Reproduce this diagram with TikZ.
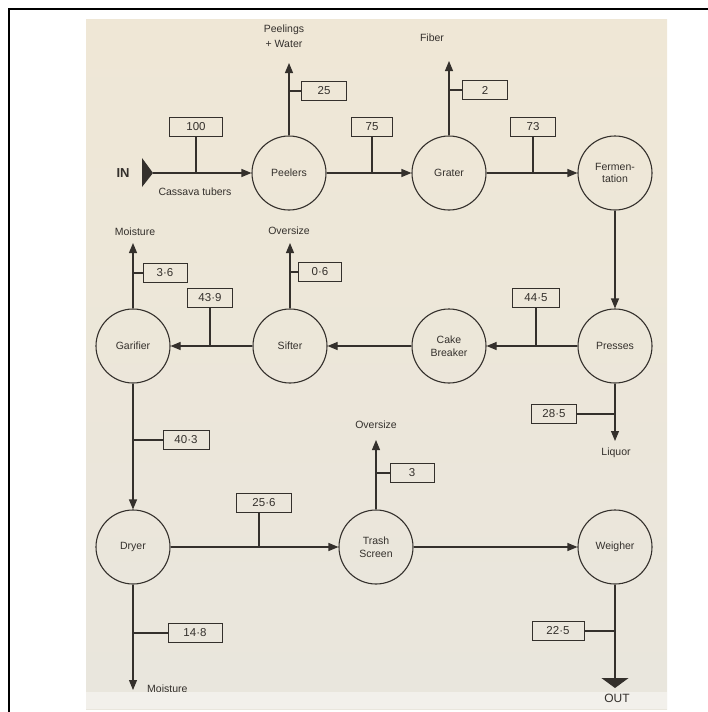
\documentclass[tikz,border=0pt]{standalone}
\usepackage{fontspec}
\setmainfont{Liberation Sans}
\usetikzlibrary{arrows.meta}
\definecolor{page}{RGB}{239,231,214}
\definecolor{pagelow}{RGB}{233,230,221}
\definecolor{ink}{RGB}{52,48,44}
\begin{document}
\begin{tikzpicture}[x=1pt,y=-1pt,
		unit/.style={circle,draw=ink,line width=1.1pt,minimum size=74pt,inner sep=0pt,align=center,
			font=\fontsize{10.5}{12.5}\selectfont,text=ink},
		flowbox/.style={draw=ink,line width=1pt,minimum width=45pt,minimum height=19pt,inner sep=0pt,
			font=\fontsize{11.5}{12}\selectfont,text=ink},
		tag/.style={inner sep=0pt,align=center,font=\fontsize{10.5}{15}\selectfont,text=ink},
		flow/.style={draw=ink,line width=1.1pt,-{Triangle[length=10pt,width=8pt]}},
		stem/.style={draw=ink,line width=1.1pt}]
		\useasboundingbox (0,0) rectangle (708,712);
		\draw[line width=2pt] (708,9)--(9,9)--(9,712);
		\shade[top color=page,bottom color=pagelow] (86,19) rectangle (667,709);

		\node[unit] (peel) at (289,173) {Peelers};
		\node[unit] (grate) at (449,173) {Grater};
		\node[unit] (ferm) at (615,173) {Fermen-\\tation};
		\node[unit] (press) at (615,346) {Presses};
		\node[unit] (cake) at (449,346) {Cake\\Breaker};
		\node[unit] (sift) at (290,346) {Sifter};
		\node[unit] (gari) at (133,346) {Garifier};
		\node[unit] (dry) at (133,547) {Dryer};
		\node[unit] (trash) at (376,547) {Trash\\Screen};
		\node[unit] (weigh) at (615,547) {Weigher};

		\coordinate (in) at (153,173);
		\fill[ink] (142,158)--(in)--(142,187)--cycle;
		\node[tag,font=\fontsize{13}{13}\selectfont\bfseries] (intext) at (123,173) {IN};
		\node[tag] (tubers) at (195,192) {Cassava tubers};
		\draw[flow] (in)--(peel);
		\draw[flow] (peel)--(grate);
		\draw[flow] (grate)--(ferm);
		\draw[flow] (ferm)--(press);
		\draw[flow] (press)--(cake);
		\draw[flow] (cake)--(sift);
		\draw[flow] (sift)--(gari);
		\draw[flow] (gari)--(dry);
		\draw[flow] (dry)--(trash);
		\draw[flow] (trash)--(weigh);

		\coordinate (peelout) at (289,63);
		\coordinate (grateout) at (449,61);
		\coordinate (gariout) at (133,243);
		\coordinate (siftout) at (290,243);
		\coordinate (trashout) at (376,440);
		\coordinate (liquor) at (615,441);
		\coordinate (dryout) at (133,690);
		\coordinate (out) at (615,688);
		\draw[flow] (peel)--(peelout);
		\draw[flow] (grate)--(grateout);
		\draw[flow] (gari)--(gariout);
		\draw[flow] (sift)--(siftout);
		\draw[flow] (trash)--(trashout);
		\draw[flow] (press)--(liquor);
		\draw[flow] (dry)--(dryout);
		\draw[draw=ink,line width=1.1pt,-{Triangle[length=10pt,width=27pt]}] (weigh)--(out);

		\node[tag] (peeltext) at (284,36) {Peelings\\+ Water};
		\node[tag] (fibertext) at (432,38) {Fiber};
		\node[tag] (garitext) at (135,232) {Moisture};
		\node[tag] (sifttext) at (289,231) {Oversize};
		\node[tag] (trashtext) at (376,425) {Oversize};
		\node[tag] (liquortext) at (616,453) {Liquor};
		\node[tag,anchor=west] (drytext) at (147,689) {Moisture};
		\fill[pagelow!60!white] (86,692) rectangle (667,709);
		\node[tag,font=\fontsize{12}{12}\selectfont] (outtext) at (617,698) {OUT};

		\node[flowbox,minimum width=53pt] (b100) at (196,127) {100};
		\node[flowbox] (b25) at (324,91) {25};
		\node[flowbox,minimum width=41pt] (b75) at (372,127) {75};
		\node[flowbox] (b2) at (485,90) {2};
		\node[flowbox] (b73) at (533,127) {73};
		\node[flowbox,minimum width=47pt] (b445) at (536,298) {44·5};
		\node[flowbox] (b285) at (554,414) {28·5};
		\node[flowbox] (b439) at (210,298) {43·9};
		\node[flowbox,minimum width=44pt] (b36) at (165,273) {3·6};
		\node[flowbox,minimum width=43pt] (b06) at (320,272) {0·6};
		\node[flowbox,minimum width=46pt] (b403) at (186,440) {40·3};
		\node[flowbox,minimum width=55pt] (b256) at (264,503) {25·6};
		\node[flowbox,minimum width=44pt] (b3) at (412,473) {3};
		\node[flowbox,minimum width=52pt] (b225) at (558,631) {22·5};
		\node[flowbox,minimum width=54pt] (b148) at (195,633) {14·8};

		\coordinate (j100) at (196,173);
		\coordinate (j25) at (289,91);
		\coordinate (j75) at (372,173);
		\coordinate (j2) at (449,90);
		\coordinate (j73) at (533,173);
		\coordinate (j445) at (536,346);
		\coordinate (j285) at (615,414);
		\coordinate (j439) at (210,346);
		\coordinate (j36) at (133,273);
		\coordinate (j06) at (290,272);
		\coordinate (j403) at (133,440);
		\coordinate (j256) at (259,547);
		\coordinate (j3) at (376,473);
		\coordinate (j225) at (615,631);
		\coordinate (j148) at (133,633);
		\foreach \b in {100,25,75,2,73,445,285,439,36,06,403,3,225,148}
			\draw[stem] (b\b)--(j\b);
		\draw[stem] (b256.south -| j256)--(j256);
	\end{tikzpicture}
\end{document}
